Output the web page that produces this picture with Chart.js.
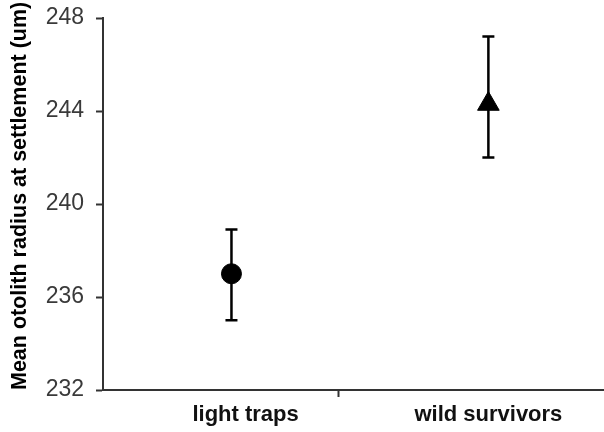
<!DOCTYPE html>
<html>
<head>
<meta charset="utf-8">
<script src="https://cdn.jsdelivr.net/npm/chart.js@4"></script>
<style>
  html, body { margin: 0; padding: 0; background: #fff; }
  #wrap { width: 604px; height: 432px; }
</style>
</head>
<body>
<div id="wrap"><canvas id="c"></canvas></div>
<script>
// ---- data ----
const categories = ['light traps', 'wild survivors'];
const means = [237.0, 244.3];
const errUpper = [238.9, 247.2];
const errLower = [235.0, 242.0];
const yTicks = [232, 236, 240, 244, 248];
const yTitle = 'Mean otolith radius at settlement (um)';
const markerStyles = ['circle', 'triangle'];

// category placement along the x axis (data units)
const catX = [1, 3];
const catLabelX = [1.11, 3.0];
const dividerX = 1.83;

const points = categories.map((c, i) => ({ x: catX[i], y: means[i] }));

const errorBars = {
  id: 'errorBars',
  beforeDatasetsDraw(chart) {
    const { ctx, scales: { x, y } } = chart;
    ctx.save();
    ctx.strokeStyle = '#000';
    ctx.lineWidth = 2.5;
    ctx.lineCap = 'butt';
    for (let i = 0; i < categories.length; i++) {
      const px = x.getPixelForValue(catX[i]);
      const top = y.getPixelForValue(errUpper[i]);
      const bot = y.getPixelForValue(errLower[i]);
      const cap = 6;
      ctx.beginPath();
      ctx.moveTo(px, top); ctx.lineTo(px, bot);
      ctx.moveTo(px - cap, top); ctx.lineTo(px + cap, top);
      ctx.moveTo(px - cap, bot); ctx.lineTo(px + cap, bot);
      ctx.stroke();
    }
    ctx.restore();
  }
};

new Chart(document.getElementById('c'), {
  type: 'scatter',
  data: {
    datasets: [{
      data: points,
      pointStyle: markerStyles,
      pointRadius: [10, 12.5],
      pointHoverRadius: [10, 12.5],
      backgroundColor: '#000',
      borderColor: '#000',
      borderWidth: 1,
      clip: false
    }]
  },
  plugins: [errorBars],
  options: {
    responsive: true,
    maintainAspectRatio: false,
    animation: false,
    events: [],
    layout: { autoPadding: false, padding: { top: 18, right: 0, left: 0, bottom: 0 } },
    plugins: { legend: { display: false }, tooltip: { enabled: false } },
    scales: {
      x: {
        type: 'linear',
        min: 0,
        max: 3.9,
        afterFit(scale) { scale.height = 42; scale.paddingRight = 0; scale.paddingLeft = 0; },
        afterBuildTicks(scale) {
          scale.ticks = [
            { value: catLabelX[0] },
            { value: dividerX },
            { value: catLabelX[1] }
          ];
        },
        border: { display: true, color: '#333', width: 2 },
        grid: {
          drawOnChartArea: false,
          drawTicks: true,
          tickLength: 7,
          tickWidth: 2,
          tickColor: (ctx) => ctx.index === 1 ? '#333' : 'rgba(0,0,0,0)'
        },
        ticks: {
          autoSkip: false,
          maxRotation: 0,
          padding: 5,
          color: '#111',
          font: { family: 'Liberation Sans, Arial, sans-serif', size: 22, weight: 'bold' },
          callback: function (value, index) {
            if (index === 0) return categories[0];
            if (index === 2) return categories[1];
            return '';
          }
        }
      },
      y: {
        type: 'linear',
        min: yTicks[0],
        max: yTicks[yTicks.length - 1],
        afterFit(scale) { scale.width = 103; scale.paddingTop = 0; scale.paddingBottom = 0; },
        afterBuildTicks(scale) { scale.ticks = yTicks.map(v => ({ value: v })); },
        border: { display: true, color: '#333', width: 2 },
        grid: {
          drawOnChartArea: false,
          drawTicks: true,
          tickLength: 7,
          tickWidth: 2,
          tickColor: '#333'
        },
        ticks: {
          padding: 12,
          color: '#3a3a3a',
          font: { family: 'Liberation Sans, Arial, sans-serif', size: 23 }
        },
        title: {
          display: true,
          text: yTitle,
          align: 'start',
          color: '#000',
          padding: { top: 9, bottom: 0 },
          font: { family: 'Liberation Sans, Arial, sans-serif', size: 21.5, weight: 'bold', lineHeight: 1 }
        }
      }
    }
  }
});
</script>
</body>
</html>
